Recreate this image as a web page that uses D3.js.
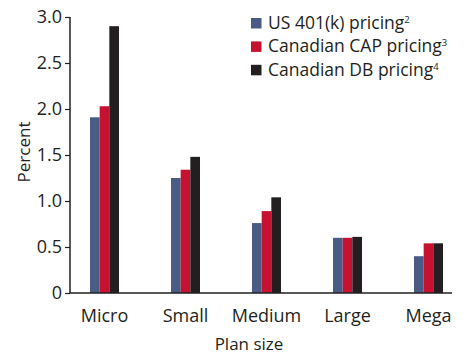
<!DOCTYPE html>
<html>
<head>
<meta charset="utf-8">
<script src="https://cdn.jsdelivr.net/npm/d3@7"></script>
<style>
  body { margin: 0; background: #fff; }
  svg text { font-family: "Open Sans", "DejaVu Sans", sans-serif; fill: #231f20; }
</style>
</head>
<body>
<div id="chart"></div>
<script>
const categories = ["Micro", "Small", "Medium", "Large", "Mega"];
const seriesNames = ["US 401(k) pricing", "Canadian CAP pricing", "Canadian DB pricing"];
const seriesNotes = ["2", "3", "4"];
const us401k = [1.91, 1.25, 0.76, 0.60, 0.40];
const canadianCap = [2.03, 1.34, 0.89, 0.60, 0.54];
const canadianDb = [2.90, 1.48, 1.04, 0.61, 0.54];
const yTicks = [0, 0.5, 1.0, 1.5, 2.0, 2.5, 3.0];
const colors = ["#4a5b85", "#c41230", "#231f20"];

const series = [us401k, canadianCap, canadianDb];

const width = 465, height = 355;

const svg = d3.select("#chart")
              .append("svg")
              .attr("width", width)
              .attr("height", height);

const y = d3.scaleLinear()
            .domain([0, 3])
            .range([293, 17]);

const x0 = d3.scaleBand()
             .domain(categories)
             .range([64, 469]);

const x1 = d3.scaleBand()
             .domain(d3.range(series.length))
             .range([0, 29]);

// bars
categories.forEach((c, i) => {
    series.forEach((s, j) => {
        svg.append("rect")
           .attr("x", x0(c) + x0.bandwidth() / 2 - 14.5 + x1(j))
           .attr("y", y(s[i]))
           .attr("width", x1.bandwidth())
           .attr("height", y(0) - y(s[i]))
           .attr("fill", colors[j]);
    });
});

// y axis
const yAxis = svg.append("g")
   .attr("transform", "translate(70,0)")
   .call(d3.axisLeft(y)
           .tickValues(yTicks)
           .tickSize(5)
           .tickPadding(3)
           .tickFormat(d => d === 0 ? "0" : d3.format(".1f")(d)));
yAxis.select(".domain").attr("stroke", "#231f20").attr("stroke-width", 1.5)
     .attr("d", "M0,17V293");
yAxis.selectAll(".tick line").attr("stroke", "#231f20").attr("stroke-width", 1.2);
yAxis.selectAll(".tick text").style("font-size", "18px").attr("fill", "#231f20");

// x axis
const xAxis = svg.append("g")
   .attr("transform", "translate(0,293)")
   .call(d3.axisBottom(x0).tickSize(0).tickPadding(16));
xAxis.select(".domain").attr("stroke", "#231f20").attr("stroke-width", 1.5)
     .attr("d", "M70,0H452");
xAxis.selectAll(".tick text").style("font-size", "18px").attr("fill", "#231f20");

// axis titles
svg.append("text")
   .attr("x", 249)
   .attr("y", 350)
   .attr("text-anchor", "middle")
   .style("font-size", "17px")
   .text("Plan size");

svg.append("text")
   .attr("transform", "translate(30,152) rotate(-90)")
   .attr("text-anchor", "middle")
   .style("font-size", "17px")
   .text("Percent");

// legend
const legend = svg.append("g");
seriesNames.forEach((name, j) => {
    const ly = 23 + j * 23.4;
    legend.append("rect")
          .attr("x", 251)
          .attr("y", ly - 5)
          .attr("width", 10.5)
          .attr("height", 10.5)
          .attr("fill", colors[j]);
    const t = legend.append("text")
          .attr("x", 268)
          .attr("y", ly + 6)
          .style("font-size", "17.5px");
    t.append("tspan").text(name);
    t.append("tspan")
     .attr("dy", -6)
     .style("font-size", "9.5px")
     .text(seriesNotes[j]);
});
</script>
</body>
</html>
